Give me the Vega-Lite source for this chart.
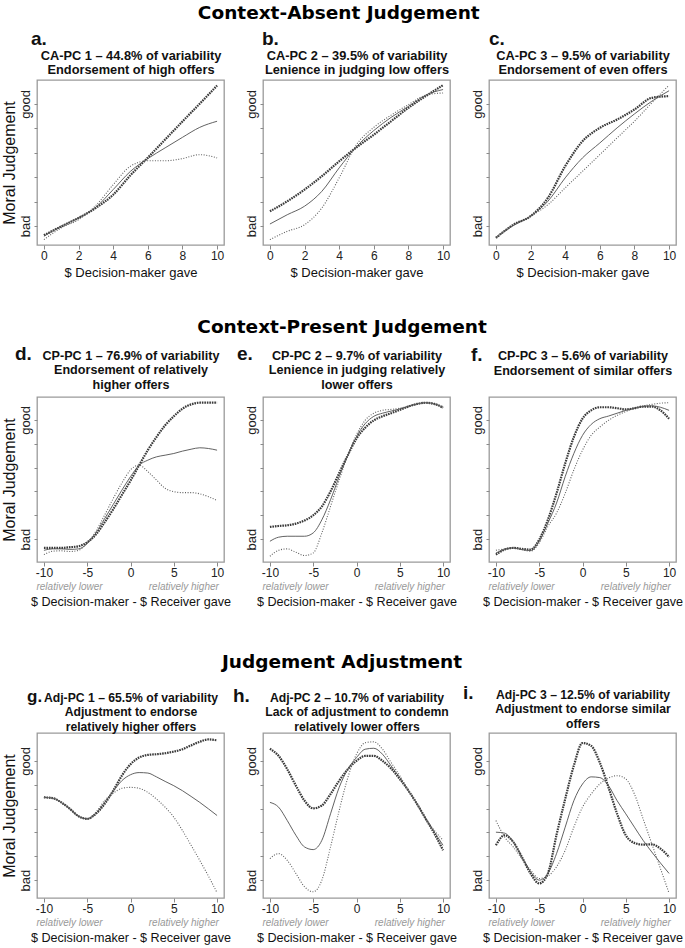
{
"$schema": "https://vega.github.io/schema/vega-lite/v6.json",
"padding": {"left": 0, "top": 3, "right": 2, "bottom": 2},
"background": "white",
"data": {"values": [
{"p":"a","x":0,"hi":-0.38,"mid":-0.42,"lo":-0.56},{"p":"a","x":1,"hi":-0.02,"mid":-0.01,"lo":-0.08},{"p":"a","x":2,"hi":0.33,"mid":0.33,"lo":0.26},{"p":"a","x":3,"hi":0.74,"mid":0.77,"lo":0.84},{"p":"a","x":4,"hi":1.28,"mid":1.49,"lo":1.69},{"p":"a","x":5,"hi":2.08,"mid":2.24,"lo":2.45},{"p":"a","x":6,"hi":2.8,"mid":2.76,"lo":2.67},{"p":"a","x":7,"hi":3.54,"mid":3.2,"lo":2.67},{"p":"a","x":8,"hi":4.28,"mid":3.63,"lo":2.76},{"p":"a","x":9,"hi":5.01,"mid":4.04,"lo":2.92},{"p":"a","x":10,"hi":5.75,"mid":4.29,"lo":2.79},
{"p":"b","x":0,"hi":0.6,"mid":0.08,"lo":-0.56},{"p":"b","x":1,"hi":1.01,"mid":0.46,"lo":-0.22},{"p":"b","x":2,"hi":1.49,"mid":0.81,"lo":0.05},{"p":"b","x":3,"hi":2.04,"mid":1.42,"lo":0.74},{"p":"b","x":4,"hi":2.65,"mid":2.38,"lo":1.97},{"p":"b","x":5,"hi":3.22,"mid":3.25,"lo":3.33},{"p":"b","x":6,"hi":3.74,"mid":3.91,"lo":4.04},{"p":"b","x":7,"hi":4.29,"mid":4.45,"lo":4.54},{"p":"b","x":8,"hi":4.84,"mid":4.9,"lo":4.97},{"p":"b","x":9,"hi":5.32,"mid":5.36,"lo":5.36},{"p":"b","x":10,"hi":5.77,"mid":5.59,"lo":5.45},
{"p":"c","x":0,"hi":-0.49,"mid":-0.47,"lo":-0.45},{"p":"c","x":1,"hi":0.05,"mid":0.02,"lo":0.02},{"p":"c","x":2,"hi":0.4,"mid":0.4,"lo":0.4},{"p":"c","x":3,"hi":1.15,"mid":1.01,"lo":0.87},{"p":"c","x":4,"hi":2.45,"mid":1.97,"lo":1.56},{"p":"c","x":5,"hi":3.47,"mid":2.79,"lo":2.24},{"p":"c","x":6,"hi":4.02,"mid":3.4,"lo":2.92},{"p":"c","x":7,"hi":4.36,"mid":4.02,"lo":3.61},{"p":"c","x":8,"hi":4.77,"mid":4.59,"lo":4.29},{"p":"c","x":9,"hi":5.25,"mid":5.11,"lo":5.04},{"p":"c","x":10,"hi":5.32,"mid":5.54,"lo":5.77},
{"p":"d","x":-10,"hi":-0.37,"mid":-0.47,"lo":-0.65},{"p":"d","x":-9,"hi":-0.37,"mid":-0.41,"lo":-0.51},{"p":"d","x":-8,"hi":-0.37,"mid":-0.41,"lo":-0.49},{"p":"d","x":-7,"hi":-0.34,"mid":-0.43,"lo":-0.52},{"p":"d","x":-6,"hi":-0.3,"mid":-0.41,"lo":-0.47},{"p":"d","x":-5,"hi":-0.13,"mid":-0.19,"lo":-0.16},{"p":"d","x":-4,"hi":0.19,"mid":0.26,"lo":0.33},{"p":"d","x":-3,"hi":0.7,"mid":0.85,"lo":1.0},{"p":"d","x":-2,"hi":1.25,"mid":1.45,"lo":1.7},{"p":"d","x":-1,"hi":1.85,"mid":2.05,"lo":2.35},{"p":"d","x":0,"hi":2.45,"mid":2.62,"lo":2.9},{"p":"d","x":1,"hi":3.1,"mid":3.1,"lo":3.1},{"p":"d","x":2,"hi":3.73,"mid":3.31,"lo":2.83},{"p":"d","x":3,"hi":4.28,"mid":3.45,"lo":2.48},{"p":"d","x":4,"hi":4.77,"mid":3.52,"lo":2.13},{"p":"d","x":5,"hi":5.15,"mid":3.59,"lo":1.99},{"p":"d","x":6,"hi":5.47,"mid":3.69,"lo":1.95},{"p":"d","x":7,"hi":5.65,"mid":3.77,"lo":1.95},{"p":"d","x":8,"hi":5.72,"mid":3.83,"lo":1.9},{"p":"d","x":9,"hi":5.72,"mid":3.8,"lo":1.78},{"p":"d","x":10,"hi":5.72,"mid":3.73,"lo":1.62},
{"p":"e","x":-10,"hi":0.51,"mid":-0.09,"lo":-0.72},{"p":"e","x":-9,"hi":0.55,"mid":0.08,"lo":-0.47},{"p":"e","x":-8,"hi":0.58,"mid":0.12,"lo":-0.41},{"p":"e","x":-7,"hi":0.65,"mid":0.12,"lo":-0.55},{"p":"e","x":-6,"hi":0.78,"mid":0.12,"lo":-0.69},{"p":"e","x":-5,"hi":1.0,"mid":0.26,"lo":-0.58},{"p":"e","x":-4,"hi":1.37,"mid":0.81,"lo":0.26},{"p":"e","x":-3,"hi":2.0,"mid":1.65,"lo":1.37},{"p":"e","x":-2,"hi":2.77,"mid":2.62,"lo":2.48},{"p":"e","x":-1,"hi":3.52,"mid":3.52,"lo":3.52},{"p":"e","x":0,"hi":4.22,"mid":4.3,"lo":4.38},{"p":"e","x":1,"hi":4.67,"mid":4.84,"lo":4.98},{"p":"e","x":2,"hi":4.98,"mid":5.15,"lo":5.28},{"p":"e","x":3,"hi":5.15,"mid":5.28,"lo":5.4},{"p":"e","x":4,"hi":5.28,"mid":5.37,"lo":5.44},{"p":"e","x":5,"hi":5.42,"mid":5.46,"lo":5.49},{"p":"e","x":6,"hi":5.56,"mid":5.56,"lo":5.58},{"p":"e","x":7,"hi":5.67,"mid":5.67,"lo":5.67},{"p":"e","x":8,"hi":5.72,"mid":5.72,"lo":5.72},{"p":"e","x":9,"hi":5.67,"mid":5.67,"lo":5.64},{"p":"e","x":10,"hi":5.51,"mid":5.53,"lo":5.57},
{"p":"f","x":-10,"hi":-0.65,"mid":-0.58,"lo":-0.47},{"p":"f","x":-9,"hi":-0.44,"mid":-0.44,"lo":-0.41},{"p":"f","x":-8,"hi":-0.37,"mid":-0.37,"lo":-0.37},{"p":"f","x":-7,"hi":-0.41,"mid":-0.44,"lo":-0.44},{"p":"f","x":-6,"hi":-0.44,"mid":-0.48,"lo":-0.51},{"p":"f","x":-5,"hi":-0.02,"mid":-0.09,"lo":-0.16},{"p":"f","x":-4,"hi":0.81,"mid":0.67,"lo":0.53},{"p":"f","x":-3,"hi":1.92,"mid":1.51,"lo":1.09},{"p":"f","x":-2,"hi":3.17,"mid":2.62,"lo":1.92},{"p":"f","x":-1,"hi":4.28,"mid":3.59,"lo":2.9},{"p":"f","x":0,"hi":5.05,"mid":4.35,"lo":3.73},{"p":"f","x":1,"hi":5.4,"mid":4.81,"lo":4.35},{"p":"f","x":2,"hi":5.53,"mid":5.05,"lo":4.7},{"p":"f","x":3,"hi":5.53,"mid":5.16,"lo":4.98},{"p":"f","x":4,"hi":5.49,"mid":5.28,"lo":5.19},{"p":"f","x":5,"hi":5.44,"mid":5.4,"lo":5.35},{"p":"f","x":6,"hi":5.49,"mid":5.49,"lo":5.49},{"p":"f","x":7,"hi":5.56,"mid":5.56,"lo":5.58},{"p":"f","x":8,"hi":5.56,"mid":5.59,"lo":5.65},{"p":"f","x":9,"hi":5.4,"mid":5.53,"lo":5.7},{"p":"f","x":10,"hi":5.05,"mid":5.4,"lo":5.72},
{"p":"g","x":-10,"hi":3.47,"mid":3.47,"lo":3.47},{"p":"g","x":-9,"hi":3.44,"mid":3.44,"lo":3.44},{"p":"g","x":-8,"hi":3.26,"mid":3.26,"lo":3.26},{"p":"g","x":-7,"hi":2.99,"mid":2.99,"lo":2.99},{"p":"g","x":-6,"hi":2.68,"mid":2.68,"lo":2.68},{"p":"g","x":-5,"hi":2.57,"mid":2.57,"lo":2.57},{"p":"g","x":-4,"hi":2.78,"mid":2.8,"lo":2.85},{"p":"g","x":-3,"hi":3.19,"mid":3.26,"lo":3.33},{"p":"g","x":-2,"hi":3.75,"mid":3.72,"lo":3.64},{"p":"g","x":-1,"hi":4.38,"mid":4.17,"lo":3.85},{"p":"g","x":0,"hi":4.86,"mid":4.42,"lo":3.89},{"p":"g","x":1,"hi":5.14,"mid":4.51,"lo":3.85},{"p":"g","x":2,"hi":5.25,"mid":4.49,"lo":3.68},{"p":"g","x":3,"hi":5.28,"mid":4.33,"lo":3.4},{"p":"g","x":4,"hi":5.32,"mid":4.14,"lo":3.06},{"p":"g","x":5,"hi":5.39,"mid":3.96,"lo":2.64},{"p":"g","x":6,"hi":5.49,"mid":3.75,"lo":2.08},{"p":"g","x":7,"hi":5.65,"mid":3.51,"lo":1.46},{"p":"g","x":8,"hi":5.8,"mid":3.26,"lo":0.83},{"p":"g","x":9,"hi":5.9,"mid":2.99,"lo":0.17},{"p":"g","x":10,"hi":5.86,"mid":2.71,"lo":-0.53},
{"p":"h","x":-10,"hi":5.51,"mid":3.26,"lo":0.9},{"p":"h","x":-9,"hi":5.21,"mid":3.06,"lo":1.11},{"p":"h","x":-8,"hi":4.65,"mid":2.5,"lo":0.83},{"p":"h","x":-7,"hi":3.96,"mid":1.88,"lo":0.28},{"p":"h","x":-6,"hi":3.33,"mid":1.39,"lo":-0.28},{"p":"h","x":-5,"hi":3.01,"mid":1.28,"lo":-0.49},{"p":"h","x":-4,"hi":3.13,"mid":1.67,"lo":0.0},{"p":"h","x":-3,"hi":3.61,"mid":2.78,"lo":1.39},{"p":"h","x":-2,"hi":4.17,"mid":3.89,"lo":2.92},{"p":"h","x":-1,"hi":4.65,"mid":4.65,"lo":4.3},{"p":"h","x":0,"hi":5.0,"mid":5.14,"lo":5.28},{"p":"h","x":1,"hi":5.21,"mid":5.49,"lo":5.76},{"p":"h","x":2,"hi":5.21,"mid":5.53,"lo":5.8},{"p":"h","x":3,"hi":5.0,"mid":5.28,"lo":5.49},{"p":"h","x":4,"hi":4.68,"mid":4.79,"lo":4.93},{"p":"h","x":5,"hi":4.24,"mid":4.3,"lo":4.38},{"p":"h","x":6,"hi":3.75,"mid":3.75,"lo":3.78},{"p":"h","x":7,"hi":3.19,"mid":3.19,"lo":3.19},{"p":"h","x":8,"hi":2.57,"mid":2.57,"lo":2.57},{"p":"h","x":9,"hi":1.95,"mid":2.01,"lo":2.08},{"p":"h","x":10,"hi":1.25,"mid":1.46,"lo":1.67},
{"p":"i","x":-10,"hi":1.46,"mid":2.01,"lo":2.5},{"p":"i","x":-9,"hi":1.88,"mid":1.97,"lo":1.81},{"p":"i","x":-8,"hi":1.6,"mid":1.6,"lo":1.39},{"p":"i","x":-7,"hi":0.97,"mid":0.97,"lo":0.9},{"p":"i","x":-6,"hi":0.28,"mid":0.35,"lo":0.42},{"p":"i","x":-5,"hi":-0.14,"mid":0.0,"lo":0.07},{"p":"i","x":-4,"hi":0.28,"mid":0.28,"lo":0.17},{"p":"i","x":-3,"hi":1.9,"mid":1.11,"lo":0.56},{"p":"i","x":-2,"hi":3.4,"mid":2.22,"lo":1.25},{"p":"i","x":-1,"hi":4.8,"mid":3.33,"lo":2.22},{"p":"i","x":0,"hi":5.75,"mid":4.03,"lo":3.06},{"p":"i","x":1,"hi":5.63,"mid":4.33,"lo":3.61},{"p":"i","x":2,"hi":4.93,"mid":4.3,"lo":4.03},{"p":"i","x":3,"hi":3.89,"mid":3.96,"lo":4.28},{"p":"i","x":4,"hi":2.78,"mid":3.33,"lo":4.38},{"p":"i","x":5,"hi":1.88,"mid":2.78,"lo":4.24},{"p":"i","x":6,"hi":1.56,"mid":2.22,"lo":3.61},{"p":"i","x":7,"hi":1.49,"mid":1.67,"lo":2.57},{"p":"i","x":8,"hi":1.5,"mid":1.18,"lo":1.53},{"p":"i","x":9,"hi":1.32,"mid":0.72,"lo":0.49},{"p":"i","x":10,"hi":0.97,"mid":0.28,"lo":-0.55}
]},
"bounds": "full",
"spacing": 43,
"vconcat": [
{"bounds": "full", "spacing": 37, "vconcat": [
{"title": {"text": "Context-Absent Judgement", "font": "DejaVu Sans", "fontSize": 18.5, "fontWeight": "bold", "anchor": "middle", "offset": 7, "color": "#000"},
 "bounds": "flush", "spacing": 39,
 "hconcat": [
 {"width": 187, "height": 165,
  "title": {"text": "a.", "anchor": "start", "frame": "group", "fontSize": 19, "fontWeight": "bold", "dx": -6, "offset": 0},
  "transform": [{"filter": "datum.p=='a'"}],
  "layer": [
   {"mark": {"type": "line", "interpolate": "monotone", "color": "#3a3a3a", "strokeWidth": 2.2, "strokeDash": [1.6, 0.9]},
    "encoding": {"x": {"field": "x", "type": "quantitative", "scale": {"domain": [-0.4, 10.4], "nice": false, "zero": false}, "axis": {"orient": "bottom", "values": [0, 2, 4, 6, 8, 10], "title": "$ Decision-maker gave", "titlePadding": 5}},
     "y": {"field": "hi", "type": "quantitative", "scale": {"domain": [-0.78, 5.98], "nice": false, "zero": false}, "axis": {"values": [0, 1, 2, 3, 4, 5], "labelExpr": "datum.value==0?'bad':datum.value==5?'good':''", "labelAngle": -90, "labelAlign": "center", "labelBaseline": "bottom", "labelFontSize": 13, "tickSize": 3, "labelPadding": 1.5, "title": "Moral Judgement", "titleFontSize": 16, "titlePadding": 2}}}},
   {"mark": {"type": "line", "interpolate": "monotone", "color": "#505050", "strokeWidth": 0.9},
    "encoding": {"x": {"field": "x", "type": "quantitative", "scale": {"domain": [-0.4, 10.4], "nice": false, "zero": false}, "axis": null}, "y": {"field": "mid", "type": "quantitative", "scale": {"domain": [-0.78, 5.98], "nice": false, "zero": false}, "axis": null}}},
   {"mark": {"type": "line", "interpolate": "monotone", "color": "#606060", "strokeWidth": 1.1, "strokeDash": [1, 1.6]},
    "encoding": {"x": {"field": "x", "type": "quantitative", "scale": {"domain": [-0.4, 10.4], "nice": false, "zero": false}, "axis": null}, "y": {"field": "lo", "type": "quantitative", "scale": {"domain": [-0.78, 5.98], "nice": false, "zero": false}, "axis": null}}},
   {"mark": {"type": "point", "opacity": 0},
    "encoding": {"x": {"field": "x", "type": "quantitative", "scale": {"domain": [-0.4, 10.4], "nice": false, "zero": false}, "axis": {"orient": "top", "ticks": false, "labels": false, "domain": false, "title": ["CA-PC 1 – 44.8% of variability", "Endorsement of high offers"], "titleFontWeight": "bold", "titleFontSize": 12.8, "titleLineHeight": 14.5, "titlePadding": 3.5}}, "y": {"field": "mid", "type": "quantitative", "scale": {"domain": [-0.78, 5.98], "nice": false, "zero": false}, "axis": null}}}
  ],
  "resolve": {"axis": {"x": "independent", "y": "independent"}}},
 {"width": 187, "height": 165,
  "title": {"text": "b.", "anchor": "start", "frame": "group", "fontSize": 19, "fontWeight": "bold", "dx": -1, "offset": 0},
  "transform": [{"filter": "datum.p=='b'"}],
  "layer": [
   {"mark": {"type": "line", "interpolate": "monotone", "color": "#3a3a3a", "strokeWidth": 2.2, "strokeDash": [1.6, 0.9]},
    "encoding": {"x": {"field": "x", "type": "quantitative", "scale": {"domain": [-0.4, 10.4], "nice": false, "zero": false}, "axis": {"orient": "bottom", "values": [0, 2, 4, 6, 8, 10], "title": "$ Decision-maker gave", "titlePadding": 5}},
     "y": {"field": "hi", "type": "quantitative", "scale": {"domain": [-0.78, 5.98], "nice": false, "zero": false}, "axis": {"values": [0, 1, 2, 3, 4, 5], "labelExpr": "datum.value==0?'bad':datum.value==5?'good':''", "labelAngle": -90, "labelAlign": "center", "labelBaseline": "bottom", "labelFontSize": 13, "tickSize": 3, "labelPadding": 1.5, "title": null}}}},
   {"mark": {"type": "line", "interpolate": "monotone", "color": "#505050", "strokeWidth": 0.9},
    "encoding": {"x": {"field": "x", "type": "quantitative", "scale": {"domain": [-0.4, 10.4], "nice": false, "zero": false}, "axis": null}, "y": {"field": "mid", "type": "quantitative", "scale": {"domain": [-0.78, 5.98], "nice": false, "zero": false}, "axis": null}}},
   {"mark": {"type": "line", "interpolate": "monotone", "color": "#606060", "strokeWidth": 1.1, "strokeDash": [1, 1.6]},
    "encoding": {"x": {"field": "x", "type": "quantitative", "scale": {"domain": [-0.4, 10.4], "nice": false, "zero": false}, "axis": null}, "y": {"field": "lo", "type": "quantitative", "scale": {"domain": [-0.78, 5.98], "nice": false, "zero": false}, "axis": null}}},
   {"mark": {"type": "point", "opacity": 0},
    "encoding": {"x": {"field": "x", "type": "quantitative", "scale": {"domain": [-0.4, 10.4], "nice": false, "zero": false}, "axis": {"orient": "top", "ticks": false, "labels": false, "domain": false, "title": ["CA-PC 2 – 39.5% of variability", "Lenience in judging low offers"], "titleFontWeight": "bold", "titleFontSize": 12.8, "titleLineHeight": 14.5, "titlePadding": 3.5}}, "y": {"field": "mid", "type": "quantitative", "scale": {"domain": [-0.78, 5.98], "nice": false, "zero": false}, "axis": null}}}
  ],
  "resolve": {"axis": {"x": "independent", "y": "independent"}}},
 {"width": 187, "height": 165,
  "title": {"text": "c.", "anchor": "start", "frame": "group", "fontSize": 19, "fontWeight": "bold", "dx": 0, "offset": 0},
  "transform": [{"filter": "datum.p=='c'"}],
  "layer": [
   {"mark": {"type": "line", "interpolate": "monotone", "color": "#3a3a3a", "strokeWidth": 2.2, "strokeDash": [1.6, 0.9]},
    "encoding": {"x": {"field": "x", "type": "quantitative", "scale": {"domain": [-0.4, 10.4], "nice": false, "zero": false}, "axis": {"orient": "bottom", "values": [0, 2, 4, 6, 8, 10], "title": "$ Decision-maker gave", "titlePadding": 5}},
     "y": {"field": "hi", "type": "quantitative", "scale": {"domain": [-0.78, 5.98], "nice": false, "zero": false}, "axis": {"values": [0, 1, 2, 3, 4, 5], "labelExpr": "datum.value==0?'bad':datum.value==5?'good':''", "labelAngle": -90, "labelAlign": "center", "labelBaseline": "bottom", "labelFontSize": 13, "tickSize": 3, "labelPadding": 1.5, "title": null}}}},
   {"mark": {"type": "line", "interpolate": "monotone", "color": "#505050", "strokeWidth": 0.9},
    "encoding": {"x": {"field": "x", "type": "quantitative", "scale": {"domain": [-0.4, 10.4], "nice": false, "zero": false}, "axis": null}, "y": {"field": "mid", "type": "quantitative", "scale": {"domain": [-0.78, 5.98], "nice": false, "zero": false}, "axis": null}}},
   {"mark": {"type": "line", "interpolate": "monotone", "color": "#606060", "strokeWidth": 1.1, "strokeDash": [1, 1.6]},
    "encoding": {"x": {"field": "x", "type": "quantitative", "scale": {"domain": [-0.4, 10.4], "nice": false, "zero": false}, "axis": null}, "y": {"field": "lo", "type": "quantitative", "scale": {"domain": [-0.78, 5.98], "nice": false, "zero": false}, "axis": null}}},
   {"mark": {"type": "point", "opacity": 0},
    "encoding": {"x": {"field": "x", "type": "quantitative", "scale": {"domain": [-0.4, 10.4], "nice": false, "zero": false}, "axis": {"orient": "top", "ticks": false, "labels": false, "domain": false, "title": ["CA-PC 3 – 9.5% of variability", "Endorsement of even offers"], "titleFontWeight": "bold", "titleFontSize": 12.8, "titleLineHeight": 14.5, "titlePadding": 3.5}}, "y": {"field": "mid", "type": "quantitative", "scale": {"domain": [-0.78, 5.98], "nice": false, "zero": false}, "axis": null}}}
  ],
  "resolve": {"axis": {"x": "independent", "y": "independent"}}}
 ]},
{"title": {"text": "Context-Present Judgement", "font": "DejaVu Sans", "fontSize": 18.5, "fontWeight": "bold", "anchor": "middle", "offset": 8, "color": "#000"},
 "bounds": "flush", "spacing": 39,
 "hconcat": [
 {"width": 187, "height": 165,
  "title": {"text": "d.", "anchor": "start", "frame": "group", "fontSize": 19, "fontWeight": "bold", "dx": -22, "offset": -15},
  "transform": [{"filter": "datum.p=='d'"}],
  "layer": [
   {"mark": {"type": "line", "interpolate": "monotone", "color": "#3a3a3a", "strokeWidth": 2.2, "strokeDash": [1.6, 0.9]},
    "encoding": {"x": {"field": "x", "type": "quantitative", "scale": {"domain": [-10.8, 10.8], "nice": false, "zero": false}, "axis": {"orient": "bottom", "values": [-10, -5, 0, 5, 10], "labelExpr": "datum.value + ''", "title": "$ Decision-maker - $ Receiver gave", "titleFontSize": 12.6, "titlePadding": 17}},
     "y": {"field": "hi", "type": "quantitative", "scale": {"domain": [-0.96, 5.96], "nice": false, "zero": false}, "axis": {"values": [0, 1, 2, 3, 4, 5], "labelExpr": "datum.value==0?'bad':datum.value==5?'good':''", "labelAngle": -90, "labelAlign": "center", "labelBaseline": "bottom", "labelFontSize": 13, "tickSize": 3, "labelPadding": 1.5, "title": "Moral Judgement", "titleFontSize": 16, "titlePadding": 2}}}},
   {"mark": {"type": "line", "interpolate": "monotone", "color": "#505050", "strokeWidth": 0.9},
    "encoding": {"x": {"field": "x", "type": "quantitative", "scale": {"domain": [-10.8, 10.8], "nice": false, "zero": false}, "axis": null}, "y": {"field": "mid", "type": "quantitative", "scale": {"domain": [-0.96, 5.96], "nice": false, "zero": false}, "axis": null}}},
   {"mark": {"type": "line", "interpolate": "monotone", "color": "#606060", "strokeWidth": 1.1, "strokeDash": [1, 1.6]},
    "encoding": {"x": {"field": "x", "type": "quantitative", "scale": {"domain": [-10.8, 10.8], "nice": false, "zero": false}, "axis": null}, "y": {"field": "lo", "type": "quantitative", "scale": {"domain": [-0.96, 5.96], "nice": false, "zero": false}, "axis": null}}},
   {"mark": {"type": "point", "opacity": 0},
    "encoding": {"x": {"field": "x", "type": "quantitative", "scale": {"domain": [-10.8, 10.8], "nice": false, "zero": false}, "axis": {"orient": "top", "ticks": false, "labels": false, "domain": false, "title": ["CP-PC 1 – 76.9% of variability", "Endorsement of relatively", "higher offers"], "titleFontWeight": "bold", "titleFontSize": 12.6, "titleLineHeight": 14.5, "titlePadding": 6}}, "y": {"field": "mid", "type": "quantitative", "scale": {"domain": [-0.96, 5.96], "nice": false, "zero": false}, "axis": null}}},
   {"mark": {"type": "point", "opacity": 0},
    "encoding": {"x": {"field": "x", "type": "quantitative", "scale": {"domain": [-10.8, 10.8], "nice": false, "zero": false}, "axis": {"orient": "bottom", "values": [-7.1, 6.1], "labelExpr": "datum.value<0?'relatively lower':'relatively higher'", "ticks": false, "tickSize": 0, "labelPadding": 19, "labelFontSize": 10, "labelFontStyle": "italic", "labelColor": "#999", "domain": false, "title": null}}, "y": {"field": "mid", "type": "quantitative", "scale": {"domain": [-0.96, 5.96], "nice": false, "zero": false}, "axis": null}}}
  ],
  "resolve": {"axis": {"x": "independent", "y": "independent"}}},
 {"width": 187, "height": 165,
  "title": {"text": "e.", "anchor": "start", "frame": "group", "fontSize": 19, "fontWeight": "bold", "dx": -26, "offset": -15},
  "transform": [{"filter": "datum.p=='e'"}],
  "layer": [
   {"mark": {"type": "line", "interpolate": "monotone", "color": "#3a3a3a", "strokeWidth": 2.2, "strokeDash": [1.6, 0.9]},
    "encoding": {"x": {"field": "x", "type": "quantitative", "scale": {"domain": [-10.8, 10.8], "nice": false, "zero": false}, "axis": {"orient": "bottom", "values": [-10, -5, 0, 5, 10], "labelExpr": "datum.value + ''", "title": "$ Decision-maker - $ Receiver gave", "titleFontSize": 12.6, "titlePadding": 17}},
     "y": {"field": "hi", "type": "quantitative", "scale": {"domain": [-0.96, 5.96], "nice": false, "zero": false}, "axis": {"values": [0, 1, 2, 3, 4, 5], "labelExpr": "datum.value==0?'bad':datum.value==5?'good':''", "labelAngle": -90, "labelAlign": "center", "labelBaseline": "bottom", "labelFontSize": 13, "tickSize": 3, "labelPadding": 1.5, "title": null}}}},
   {"mark": {"type": "line", "interpolate": "monotone", "color": "#505050", "strokeWidth": 0.9},
    "encoding": {"x": {"field": "x", "type": "quantitative", "scale": {"domain": [-10.8, 10.8], "nice": false, "zero": false}, "axis": null}, "y": {"field": "mid", "type": "quantitative", "scale": {"domain": [-0.96, 5.96], "nice": false, "zero": false}, "axis": null}}},
   {"mark": {"type": "line", "interpolate": "monotone", "color": "#606060", "strokeWidth": 1.1, "strokeDash": [1, 1.6]},
    "encoding": {"x": {"field": "x", "type": "quantitative", "scale": {"domain": [-10.8, 10.8], "nice": false, "zero": false}, "axis": null}, "y": {"field": "lo", "type": "quantitative", "scale": {"domain": [-0.96, 5.96], "nice": false, "zero": false}, "axis": null}}},
   {"mark": {"type": "point", "opacity": 0},
    "encoding": {"x": {"field": "x", "type": "quantitative", "scale": {"domain": [-10.8, 10.8], "nice": false, "zero": false}, "axis": {"orient": "top", "ticks": false, "labels": false, "domain": false, "title": ["CP-PC 2 – 9.7% of variability", "Lenience in judging relatively", "lower offers"], "titleFontWeight": "bold", "titleFontSize": 12.6, "titleLineHeight": 14.5, "titlePadding": 6}}, "y": {"field": "mid", "type": "quantitative", "scale": {"domain": [-0.96, 5.96], "nice": false, "zero": false}, "axis": null}}},
   {"mark": {"type": "point", "opacity": 0},
    "encoding": {"x": {"field": "x", "type": "quantitative", "scale": {"domain": [-10.8, 10.8], "nice": false, "zero": false}, "axis": {"orient": "bottom", "values": [-7.1, 6.1], "labelExpr": "datum.value<0?'relatively lower':'relatively higher'", "ticks": false, "tickSize": 0, "labelPadding": 19, "labelFontSize": 10, "labelFontStyle": "italic", "labelColor": "#999", "domain": false, "title": null}}, "y": {"field": "mid", "type": "quantitative", "scale": {"domain": [-0.96, 5.96], "nice": false, "zero": false}, "axis": null}}}
  ],
  "resolve": {"axis": {"x": "independent", "y": "independent"}}},
 {"width": 187, "height": 165,
  "title": {"text": "f.", "anchor": "start", "frame": "group", "fontSize": 19, "fontWeight": "bold", "dx": -18, "offset": -15},
  "transform": [{"filter": "datum.p=='f'"}],
  "layer": [
   {"mark": {"type": "line", "interpolate": "monotone", "color": "#3a3a3a", "strokeWidth": 2.2, "strokeDash": [1.6, 0.9]},
    "encoding": {"x": {"field": "x", "type": "quantitative", "scale": {"domain": [-10.8, 10.8], "nice": false, "zero": false}, "axis": {"orient": "bottom", "values": [-10, -5, 0, 5, 10], "labelExpr": "datum.value + ''", "title": "$ Decision-maker - $ Receiver gave", "titleFontSize": 12.6, "titlePadding": 17}},
     "y": {"field": "hi", "type": "quantitative", "scale": {"domain": [-0.96, 5.96], "nice": false, "zero": false}, "axis": {"values": [0, 1, 2, 3, 4, 5], "labelExpr": "datum.value==0?'bad':datum.value==5?'good':''", "labelAngle": -90, "labelAlign": "center", "labelBaseline": "bottom", "labelFontSize": 13, "tickSize": 3, "labelPadding": 1.5, "title": null}}}},
   {"mark": {"type": "line", "interpolate": "monotone", "color": "#505050", "strokeWidth": 0.9},
    "encoding": {"x": {"field": "x", "type": "quantitative", "scale": {"domain": [-10.8, 10.8], "nice": false, "zero": false}, "axis": null}, "y": {"field": "mid", "type": "quantitative", "scale": {"domain": [-0.96, 5.96], "nice": false, "zero": false}, "axis": null}}},
   {"mark": {"type": "line", "interpolate": "monotone", "color": "#606060", "strokeWidth": 1.1, "strokeDash": [1, 1.6]},
    "encoding": {"x": {"field": "x", "type": "quantitative", "scale": {"domain": [-10.8, 10.8], "nice": false, "zero": false}, "axis": null}, "y": {"field": "lo", "type": "quantitative", "scale": {"domain": [-0.96, 5.96], "nice": false, "zero": false}, "axis": null}}},
   {"mark": {"type": "point", "opacity": 0},
    "encoding": {"x": {"field": "x", "type": "quantitative", "scale": {"domain": [-10.8, 10.8], "nice": false, "zero": false}, "axis": {"orient": "top", "ticks": false, "labels": false, "domain": false, "title": ["CP-PC 3 – 5.6% of variability", "Endorsement of similar offers"], "titleFontWeight": "bold", "titleFontSize": 12.6, "titleLineHeight": 14.5, "titlePadding": 20}}, "y": {"field": "mid", "type": "quantitative", "scale": {"domain": [-0.96, 5.96], "nice": false, "zero": false}, "axis": null}}},
   {"mark": {"type": "point", "opacity": 0},
    "encoding": {"x": {"field": "x", "type": "quantitative", "scale": {"domain": [-10.8, 10.8], "nice": false, "zero": false}, "axis": {"orient": "bottom", "values": [-7.1, 6.1], "labelExpr": "datum.value<0?'relatively lower':'relatively higher'", "ticks": false, "tickSize": 0, "labelPadding": 19, "labelFontSize": 10, "labelFontStyle": "italic", "labelColor": "#999", "domain": false, "title": null}}, "y": {"field": "mid", "type": "quantitative", "scale": {"domain": [-0.96, 5.96], "nice": false, "zero": false}, "axis": null}}}
  ],
  "resolve": {"axis": {"x": "independent", "y": "independent"}}}
 ]}
]},
{"title": {"text": "Judgement Adjustment", "font": "DejaVu Sans", "fontSize": 18.5, "fontWeight": "bold", "anchor": "middle", "offset": 12, "color": "#000"},
 "bounds": "flush", "spacing": 39,
 "hconcat": [
 {"width": 187, "height": 165,
  "title": {"text": "g.", "anchor": "start", "frame": "group", "fontSize": 17, "fontWeight": "bold", "dx": -10, "offset": -15},
  "transform": [{"filter": "datum.p=='g'"}],
  "layer": [
   {"mark": {"type": "line", "interpolate": "monotone", "color": "#3a3a3a", "strokeWidth": 2.2, "strokeDash": [1.6, 0.9]},
    "encoding": {"x": {"field": "x", "type": "quantitative", "scale": {"domain": [-10.8, 10.8], "nice": false, "zero": false}, "axis": {"orient": "bottom", "values": [-10, -5, 0, 5, 10], "labelExpr": "datum.value + ''", "title": "$ Decision-maker - $ Receiver gave", "titleFontSize": 12.6, "titlePadding": 17}},
     "y": {"field": "hi", "type": "quantitative", "scale": {"domain": [-0.75, 6.17], "nice": false, "zero": false}, "axis": {"values": [0, 1, 2, 3, 4, 5], "labelExpr": "datum.value==0?'bad':datum.value==5?'good':''", "labelAngle": -90, "labelAlign": "center", "labelBaseline": "bottom", "labelFontSize": 13, "tickSize": 3, "labelPadding": 1.5, "title": "Moral Judgement", "titleFontSize": 16, "titlePadding": 2}}}},
   {"mark": {"type": "line", "interpolate": "monotone", "color": "#505050", "strokeWidth": 0.9},
    "encoding": {"x": {"field": "x", "type": "quantitative", "scale": {"domain": [-10.8, 10.8], "nice": false, "zero": false}, "axis": null}, "y": {"field": "mid", "type": "quantitative", "scale": {"domain": [-0.75, 6.17], "nice": false, "zero": false}, "axis": null}}},
   {"mark": {"type": "line", "interpolate": "monotone", "color": "#606060", "strokeWidth": 1.1, "strokeDash": [1, 1.6]},
    "encoding": {"x": {"field": "x", "type": "quantitative", "scale": {"domain": [-10.8, 10.8], "nice": false, "zero": false}, "axis": null}, "y": {"field": "lo", "type": "quantitative", "scale": {"domain": [-0.75, 6.17], "nice": false, "zero": false}, "axis": null}}},
   {"mark": {"type": "point", "opacity": 0},
    "encoding": {"x": {"field": "x", "type": "quantitative", "scale": {"domain": [-10.8, 10.8], "nice": false, "zero": false}, "axis": {"orient": "top", "ticks": false, "labels": false, "domain": false, "title": ["Adj-PC 1 – 65.5% of variability", "Adjustment to endorse", "relatively higher offers"], "titleFontWeight": "bold", "titleFontSize": 12.2, "titleLineHeight": 14.5, "titlePadding": 0}}, "y": {"field": "mid", "type": "quantitative", "scale": {"domain": [-0.75, 6.17], "nice": false, "zero": false}, "axis": null}}},
   {"mark": {"type": "point", "opacity": 0},
    "encoding": {"x": {"field": "x", "type": "quantitative", "scale": {"domain": [-10.8, 10.8], "nice": false, "zero": false}, "axis": {"orient": "bottom", "values": [-7.1, 6.1], "labelExpr": "datum.value<0?'relatively lower':'relatively higher'", "ticks": false, "tickSize": 0, "labelPadding": 19, "labelFontSize": 10, "labelFontStyle": "italic", "labelColor": "#999", "domain": false, "title": null}}, "y": {"field": "mid", "type": "quantitative", "scale": {"domain": [-0.75, 6.17], "nice": false, "zero": false}, "axis": null}}}
  ],
  "resolve": {"axis": {"x": "independent", "y": "independent"}}},
 {"width": 187, "height": 165,
  "title": {"text": "h.", "anchor": "start", "frame": "group", "fontSize": 19, "fontWeight": "bold", "dx": -30, "offset": -15},
  "transform": [{"filter": "datum.p=='h'"}],
  "layer": [
   {"mark": {"type": "line", "interpolate": "monotone", "color": "#3a3a3a", "strokeWidth": 2.2, "strokeDash": [1.6, 0.9]},
    "encoding": {"x": {"field": "x", "type": "quantitative", "scale": {"domain": [-10.8, 10.8], "nice": false, "zero": false}, "axis": {"orient": "bottom", "values": [-10, -5, 0, 5, 10], "labelExpr": "datum.value + ''", "title": "$ Decision-maker - $ Receiver gave", "titleFontSize": 12.6, "titlePadding": 17}},
     "y": {"field": "hi", "type": "quantitative", "scale": {"domain": [-0.75, 6.17], "nice": false, "zero": false}, "axis": {"values": [0, 1, 2, 3, 4, 5], "labelExpr": "datum.value==0?'bad':datum.value==5?'good':''", "labelAngle": -90, "labelAlign": "center", "labelBaseline": "bottom", "labelFontSize": 13, "tickSize": 3, "labelPadding": 1.5, "title": null}}}},
   {"mark": {"type": "line", "interpolate": "monotone", "color": "#505050", "strokeWidth": 0.9},
    "encoding": {"x": {"field": "x", "type": "quantitative", "scale": {"domain": [-10.8, 10.8], "nice": false, "zero": false}, "axis": null}, "y": {"field": "mid", "type": "quantitative", "scale": {"domain": [-0.75, 6.17], "nice": false, "zero": false}, "axis": null}}},
   {"mark": {"type": "line", "interpolate": "monotone", "color": "#606060", "strokeWidth": 1.1, "strokeDash": [1, 1.6]},
    "encoding": {"x": {"field": "x", "type": "quantitative", "scale": {"domain": [-10.8, 10.8], "nice": false, "zero": false}, "axis": null}, "y": {"field": "lo", "type": "quantitative", "scale": {"domain": [-0.75, 6.17], "nice": false, "zero": false}, "axis": null}}},
   {"mark": {"type": "point", "opacity": 0},
    "encoding": {"x": {"field": "x", "type": "quantitative", "scale": {"domain": [-10.8, 10.8], "nice": false, "zero": false}, "axis": {"orient": "top", "ticks": false, "labels": false, "domain": false, "title": ["Adj-PC 2 – 10.7% of variability", "Lack of adjustment to condemn", "relatively lower offers"], "titleFontWeight": "bold", "titleFontSize": 12.2, "titleLineHeight": 14.5, "titlePadding": 0}}, "y": {"field": "mid", "type": "quantitative", "scale": {"domain": [-0.75, 6.17], "nice": false, "zero": false}, "axis": null}}},
   {"mark": {"type": "point", "opacity": 0},
    "encoding": {"x": {"field": "x", "type": "quantitative", "scale": {"domain": [-10.8, 10.8], "nice": false, "zero": false}, "axis": {"orient": "bottom", "values": [-7.1, 6.1], "labelExpr": "datum.value<0?'relatively lower':'relatively higher'", "ticks": false, "tickSize": 0, "labelPadding": 19, "labelFontSize": 10, "labelFontStyle": "italic", "labelColor": "#999", "domain": false, "title": null}}, "y": {"field": "mid", "type": "quantitative", "scale": {"domain": [-0.75, 6.17], "nice": false, "zero": false}, "axis": null}}}
  ],
  "resolve": {"axis": {"x": "independent", "y": "independent"}}},
 {"width": 187, "height": 165,
  "title": {"text": "i.", "anchor": "start", "frame": "group", "fontSize": 19, "fontWeight": "bold", "dx": -26, "offset": -15},
  "transform": [{"filter": "datum.p=='i'"}],
  "layer": [
   {"mark": {"type": "line", "interpolate": "monotone", "color": "#3a3a3a", "strokeWidth": 2.2, "strokeDash": [1.6, 0.9]},
    "encoding": {"x": {"field": "x", "type": "quantitative", "scale": {"domain": [-10.8, 10.8], "nice": false, "zero": false}, "axis": {"orient": "bottom", "values": [-10, -5, 0, 5, 10], "labelExpr": "datum.value + ''", "title": "$ Decision-maker - $ Receiver gave", "titleFontSize": 12.6, "titlePadding": 17}},
     "y": {"field": "hi", "type": "quantitative", "scale": {"domain": [-0.75, 6.17], "nice": false, "zero": false}, "axis": {"values": [0, 1, 2, 3, 4, 5], "labelExpr": "datum.value==0?'bad':datum.value==5?'good':''", "labelAngle": -90, "labelAlign": "center", "labelBaseline": "bottom", "labelFontSize": 13, "tickSize": 3, "labelPadding": 1.5, "title": null}}}},
   {"mark": {"type": "line", "interpolate": "monotone", "color": "#505050", "strokeWidth": 0.9},
    "encoding": {"x": {"field": "x", "type": "quantitative", "scale": {"domain": [-10.8, 10.8], "nice": false, "zero": false}, "axis": null}, "y": {"field": "mid", "type": "quantitative", "scale": {"domain": [-0.75, 6.17], "nice": false, "zero": false}, "axis": null}}},
   {"mark": {"type": "line", "interpolate": "monotone", "color": "#606060", "strokeWidth": 1.1, "strokeDash": [1, 1.6]},
    "encoding": {"x": {"field": "x", "type": "quantitative", "scale": {"domain": [-10.8, 10.8], "nice": false, "zero": false}, "axis": null}, "y": {"field": "lo", "type": "quantitative", "scale": {"domain": [-0.75, 6.17], "nice": false, "zero": false}, "axis": null}}},
   {"mark": {"type": "point", "opacity": 0},
    "encoding": {"x": {"field": "x", "type": "quantitative", "scale": {"domain": [-10.8, 10.8], "nice": false, "zero": false}, "axis": {"orient": "top", "ticks": false, "labels": false, "domain": false, "title": ["Adj-PC 3 – 12.5% of variability", "Adjustment to endorse similar", "offers"], "titleFontWeight": "bold", "titleFontSize": 12.2, "titleLineHeight": 14.5, "titlePadding": 3}}, "y": {"field": "mid", "type": "quantitative", "scale": {"domain": [-0.75, 6.17], "nice": false, "zero": false}, "axis": null}}},
   {"mark": {"type": "point", "opacity": 0},
    "encoding": {"x": {"field": "x", "type": "quantitative", "scale": {"domain": [-10.8, 10.8], "nice": false, "zero": false}, "axis": {"orient": "bottom", "values": [-7.1, 6.1], "labelExpr": "datum.value<0?'relatively lower':'relatively higher'", "ticks": false, "tickSize": 0, "labelPadding": 19, "labelFontSize": 10, "labelFontStyle": "italic", "labelColor": "#999", "domain": false, "title": null}}, "y": {"field": "mid", "type": "quantitative", "scale": {"domain": [-0.75, 6.17], "nice": false, "zero": false}, "axis": null}}}
  ],
  "resolve": {"axis": {"x": "independent", "y": "independent"}}}
 ]}
],
"config": {
 "font": "Liberation Sans",
 "view": {"stroke": "#9a9a9a", "strokeWidth": 1.3},
 "axis": {"grid": false, "domain": false, "tickColor": "#8a8a8a", "tickSize": 4, "labelPadding": 1, "labelFontSize": 12, "labelColor": "#222", "titleFontSize": 13, "titleColor": "#111", "titleFontWeight": "normal", "labelFlush": false, "labelOverlap": false},
 "title": {"color": "#111"}
}
}
